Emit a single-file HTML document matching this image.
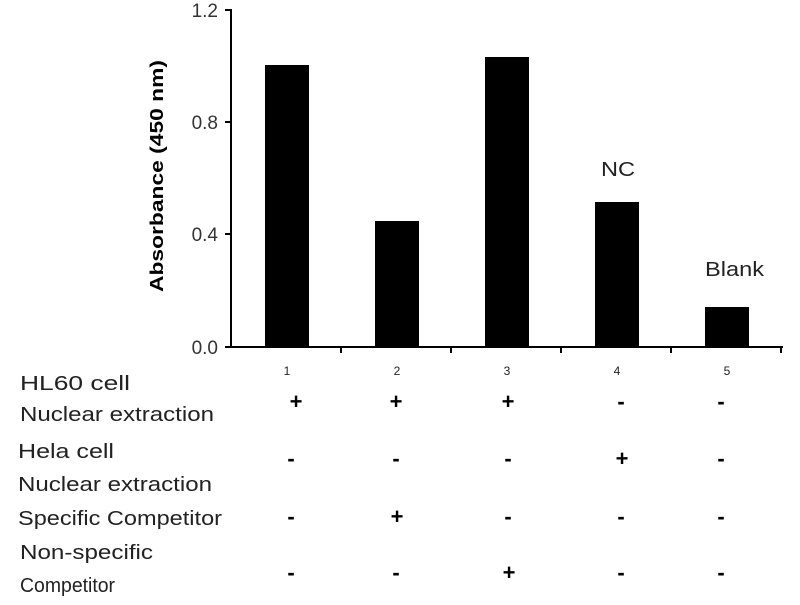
<!DOCTYPE html>
<html><head><style>
body{margin:0;background:#fff;width:800px;height:600px;overflow:hidden}
</style></head><body>
<svg width="800" height="600" xmlns="http://www.w3.org/2000/svg" font-family="Liberation Sans, sans-serif">
<g fill="#000">
<rect x="265" y="65" width="44" height="282"/>
<rect x="375" y="221" width="44" height="126"/>
<rect x="485" y="57" width="44" height="290"/>
<rect x="595" y="202" width="44" height="145"/>
<rect x="705" y="307" width="44" height="40"/>
</g>
<g stroke="#000" stroke-width="2">
<line x1="231" y1="9" x2="231" y2="348"/>
<line x1="230" y1="347" x2="783" y2="347"/>
<line x1="225" y1="10" x2="231" y2="10"/>
<line x1="225" y1="122" x2="231" y2="122"/>
<line x1="225" y1="234" x2="231" y2="234"/>
<line x1="225" y1="347" x2="231" y2="347"/>
<line x1="341" y1="347" x2="341" y2="353"/>
<line x1="451" y1="347" x2="451" y2="353"/>
<line x1="561" y1="347" x2="561" y2="353"/>
<line x1="671" y1="347" x2="671" y2="353"/>
<line x1="781" y1="347" x2="781" y2="353"/>
</g>
<g font-size="19" fill="#333" text-anchor="end">
<text x="218" y="17">1.2</text>
<text x="218" y="129">0.8</text>
<text x="218" y="241">0.4</text>
<text x="218" y="354">0.0</text>
</g>
<text transform="translate(163,176) rotate(-90)" text-anchor="middle" font-size="18" font-weight="bold" textLength="232" lengthAdjust="spacingAndGlyphs">Absorbance (450 nm)</text>
<g font-size="12" text-anchor="middle" fill="#222">
<text x="287" y="375">1</text><text x="397" y="375">2</text><text x="507" y="375">3</text><text x="617" y="375">4</text><text x="727" y="375">5</text>
</g>
<g font-size="20" fill="#222">
<text x="601" y="176" textLength="34" lengthAdjust="spacingAndGlyphs">NC</text>
<text x="705" y="276" textLength="59" lengthAdjust="spacingAndGlyphs">Blank</text>
<text x="20" y="390" textLength="110" lengthAdjust="spacingAndGlyphs">HL60 cell</text>
<text x="20" y="421" textLength="194" lengthAdjust="spacingAndGlyphs">Nuclear extraction</text>
<text x="18" y="458" textLength="96" lengthAdjust="spacingAndGlyphs">Hela cell</text>
<text x="18" y="491" textLength="194" lengthAdjust="spacingAndGlyphs">Nuclear extraction</text>
<text x="18" y="525" textLength="204" lengthAdjust="spacingAndGlyphs">Specific Competitor</text>
<text x="20" y="559" textLength="133" lengthAdjust="spacingAndGlyphs">Non-specific</text>
<text x="20" y="592" textLength="95" lengthAdjust="spacingAndGlyphs">Competitor</text>
</g>
<g font-size="22" font-weight="bold" text-anchor="middle">
<text x="296" y="409">+</text><text x="396" y="409">+</text><text x="508" y="409">+</text><text x="621" y="409">-</text><text x="721" y="409">-</text>
<text x="291" y="466">-</text><text x="396" y="466">-</text><text x="508" y="466">-</text><text x="622" y="466">+</text><text x="721" y="466">-</text>
<text x="291" y="524">-</text><text x="397" y="524">+</text><text x="508" y="524">-</text><text x="621" y="524">-</text><text x="721" y="524">-</text>
<text x="291" y="580">-</text><text x="396" y="580">-</text><text x="509" y="580">+</text><text x="621" y="580">-</text><text x="721" y="580">-</text>
</g>
</svg>
</body></html>
